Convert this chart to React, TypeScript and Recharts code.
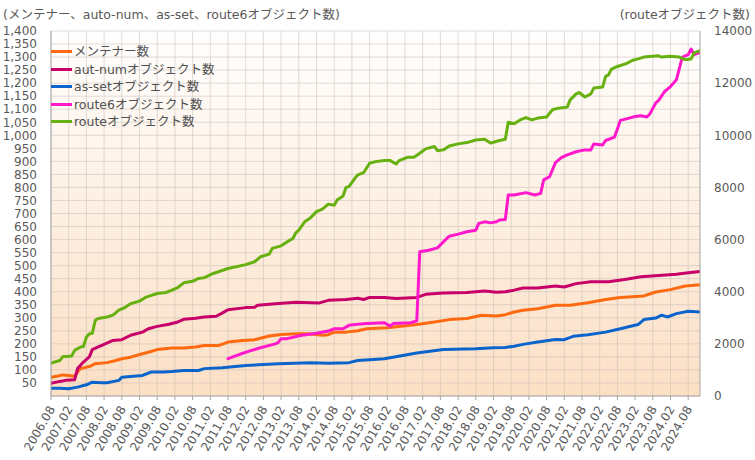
import React from 'react';
import { LineChart, Line, XAxis, YAxis, CartesianGrid } from 'recharts';

const FONT = "'DejaVu Sans', 'Noto Sans CJK JP', sans-serif";
const TEXT = '#595959';
const AXIS = '#a6a6a6';

const xTickLabels = [
  '2006.08', '2007.02', '2007.08', '2008.02', '2008.08', '2009.02', '2009.08', '2010.02',
  '2010.08', '2011.02', '2011.08', '2012.02', '2012.08', '2013.02', '2013.08', '2014.02',
  '2014.08', '2015.02', '2015.08', '2016.02', '2016.08', '2017.02', '2017.08', '2018.02',
  '2018.08', '2019.02', '2019.08', '2020.02', '2020.08', '2021.02', '2021.08', '2022.02',
  '2022.08', '2023.02', '2023.08', '2024.02', '2024.08',
];
const firstMonth = '2006.08';
const lastMonth = '2024.12';

const leftTicks = [
  0, 50, 100, 150, 200, 250, 300, 350, 400, 450, 500, 550, 600, 650, 700,
  750, 800, 850, 900, 950, 1000, 1050, 1100, 1150, 1200, 1250, 1300, 1350, 1400,
];
const rightTicks = [0, 2000, 4000, 6000, 8000, 10000, 12000, 14000];

const maintainers: [string, number][] = [
  ['2006.08', 72], ['2006.10', 76], ['2006.12', 81], ['2007.02', 79], ['2007.04', 76], ['2007.05', 92],
  ['2007.06', 105], ['2007.09', 113], ['2007.11', 124], ['2008.03', 128], ['2008.06', 136], ['2008.08', 143],
  ['2008.11', 149], ['2009.03', 162], ['2009.05', 168], ['2009.08', 178], ['2010.01', 184], ['2010.05', 184],
  ['2010.09', 188], ['2010.12', 194], ['2011.05', 194], ['2011.08', 207], ['2012.01', 213], ['2012.05', 216],
  ['2012.10', 230], ['2013.02', 236], ['2013.07', 239], ['2013.11', 239], ['2014.04', 233], ['2014.06', 235],
  ['2014.08', 245], ['2014.12', 245], ['2015.04', 250], ['2015.07', 258], ['2016.02', 262], ['2016.06', 267],
  ['2016.12', 274], ['2017.06', 284], ['2017.11', 293], ['2018.05', 297], ['2018.10', 310], ['2019.03', 307],
  ['2019.06', 312], ['2019.09', 322], ['2019.12', 329], ['2020.05', 335], ['2020.11', 348], ['2021.04', 348],
  ['2021.10', 358], ['2022.04', 370], ['2022.09', 378], ['2023.05', 384], ['2023.09', 399], ['2024.02', 408],
  ['2024.07', 422], ['2024.12', 427],
];

const autNum: [string, number][] = [
  ['2006.08', 49], ['2006.11', 56], ['2007.01', 60], ['2007.04', 62], ['2007.05', 105], ['2007.07', 130],
  ['2007.09', 150], ['2007.10', 178], ['2007.12', 188], ['2008.02', 198], ['2008.05', 213], ['2008.08', 216],
  ['2008.11', 233], ['2009.03', 245], ['2009.05', 258], ['2009.08', 267], ['2009.12', 275], ['2010.03', 284],
  ['2010.05', 294], ['2010.09', 298], ['2010.12', 303], ['2011.04', 306], ['2011.06', 318], ['2011.08', 331],
  ['2012.02', 339], ['2012.05', 340], ['2012.06', 348], ['2012.12', 354], ['2013.07', 360], ['2014.03', 357],
  ['2014.06', 367], ['2014.12', 370], ['2015.04', 375], ['2015.06', 370], ['2015.08', 378], ['2016.01', 378],
  ['2016.05', 374], ['2016.12', 378], ['2017.03', 390], ['2017.09', 395], ['2018.05', 397], ['2018.11', 403],
  ['2019.03', 398], ['2019.06', 400], ['2019.09', 406], ['2019.12', 414], ['2020.05', 414], ['2020.11', 422],
  ['2021.02', 418], ['2021.06', 431], ['2021.11', 438], ['2022.05', 438], ['2022.11', 448], ['2023.04', 457],
  ['2023.10', 462], ['2024.04', 467], ['2024.08', 473], ['2024.12', 478],
];

const asSet: [string, number][] = [
  ['2006.08', 30], ['2006.11', 30], ['2007.02', 28], ['2007.05', 34], ['2007.08', 43], ['2007.10', 53],
  ['2008.01', 51], ['2008.03', 51], ['2008.07', 60], ['2008.08', 72], ['2008.11', 75], ['2009.03', 79],
  ['2009.06', 92], ['2009.10', 92], ['2010.01', 94], ['2010.05', 98], ['2010.10', 98], ['2010.12', 105],
  ['2011.06', 108], ['2012.02', 117], ['2013.01', 124], ['2013.12', 128], ['2014.06', 126], ['2015.01', 128],
  ['2015.04', 136], ['2016.01', 143], ['2016.12', 165], ['2017.09', 178], ['2018.08', 181], ['2019.02', 185],
  ['2019.06', 186], ['2019.09', 191], ['2019.12', 198], ['2020.05', 207], ['2020.11', 217], ['2021.02', 216],
  ['2021.05', 229], ['2021.10', 235], ['2022.04', 245], ['2022.09', 258], ['2023.03', 274], ['2023.05', 293],
  ['2023.09', 299], ['2023.11', 310], ['2024.01', 303], ['2024.04', 316], ['2024.08', 325], ['2024.12', 322],
];

const route6: [string, number][] = [
  ['2011.08', 143], ['2011.12', 160], ['2012.04', 175], ['2012.07', 185], ['2012.12', 200], ['2013.01', 205],
  ['2013.02', 220], ['2013.04', 220], ['2013.09', 233], ['2014.02', 241], ['2014.06', 249], ['2014.08', 258],
  ['2014.11', 258], ['2015.01', 271], ['2015.04', 275], ['2015.07', 278], ['2016.01', 281], ['2016.03', 268],
  ['2016.04', 278], ['2016.10', 281], ['2016.12', 288], ['2017.01', 553], ['2017.04', 559], ['2017.07', 568],
  ['2017.09', 591], ['2017.11', 613], ['2018.02', 621], ['2018.05', 630], ['2018.08', 636], ['2018.09', 662],
  ['2018.11', 668], ['2019.01', 664], ['2019.03', 668], ['2019.04', 675], ['2019.06', 677], ['2019.07', 771],
  ['2019.09', 771], ['2020.01', 780], ['2020.04', 771], ['2020.06', 777], ['2020.07', 829], ['2020.09', 841],
  ['2020.11', 895], ['2021.01', 914], ['2021.03', 925], ['2021.06', 937], ['2021.09', 944], ['2021.11', 944],
  ['2021.12', 967], ['2022.03', 963], ['2022.04', 980], ['2022.07', 993], ['2022.08', 1024], ['2022.09', 1057],
  ['2022.12', 1066], ['2023.02', 1072], ['2023.04', 1075], ['2023.06', 1070], ['2023.07', 1082], ['2023.09', 1124],
  ['2023.10', 1134], ['2023.12', 1168], ['2024.02', 1187], ['2024.04', 1213], ['2024.06', 1300], ['2024.08', 1309],
  ['2024.09', 1331], ['2024.10', 1309], ['2024.12', 1318],
];

const route: [string, number][] = [
  ['2006.08', 1260], ['2006.11', 1360], ['2006.12', 1510], ['2007.03', 1530], ['2007.04', 1750], ['2007.06', 1880],
  ['2007.07', 1900], ['2007.08', 2260], ['2007.09', 2390], ['2007.10', 2400], ['2007.11', 2900], ['2007.12', 2970],
  ['2008.03', 3030], ['2008.05', 3100], ['2008.07', 3290], ['2008.09', 3390], ['2008.11', 3540], ['2009.02', 3640],
  ['2009.04', 3780], ['2009.06', 3860], ['2009.08', 3930], ['2009.11', 3970], ['2010.01', 4060], ['2010.03', 4160],
  ['2010.05', 4340], ['2010.08', 4400], ['2010.10', 4510], ['2010.12', 4540], ['2011.03', 4700], ['2011.08', 4890],
  ['2012.02', 5040], ['2012.05', 5150], ['2012.07', 5340], ['2012.10', 5440], ['2012.11', 5660], ['2013.02', 5760],
  ['2013.04', 5910], ['2013.06', 6040], ['2013.07', 6260], ['2013.08', 6360], ['2013.10', 6680], ['2013.12', 6840],
  ['2014.02', 7070], ['2014.04', 7170], ['2014.06', 7360], ['2014.08', 7320], ['2014.09', 7520], ['2014.11', 7670],
  ['2014.12', 8000], ['2015.01', 8030], ['2015.03', 8350], ['2015.04', 8480], ['2015.06', 8570], ['2015.08', 8930],
  ['2015.10', 8990], ['2016.01', 9030], ['2016.03', 9030], ['2016.05', 8900], ['2016.06', 9030], ['2016.09', 9160],
  ['2016.11', 9160], ['2017.01', 9310], ['2017.03', 9480], ['2017.06', 9570], ['2017.07', 9410], ['2017.09', 9440],
  ['2017.11', 9590], ['2018.02', 9670], ['2018.05', 9720], ['2018.08', 9820], ['2018.11', 9850], ['2019.01', 9700],
  ['2019.04', 9800], ['2019.06', 9850], ['2019.07', 10500], ['2019.09', 10440], ['2019.11', 10590], ['2020.01', 10680],
  ['2020.03', 10590], ['2020.05', 10660], ['2020.08', 10700], ['2020.10', 10980], ['2020.12', 11040], ['2021.03', 11080],
  ['2021.04', 11360], ['2021.06', 11590], ['2021.07', 11640], ['2021.09', 11470], ['2021.11', 11590], ['2021.12', 11810],
  ['2022.03', 11850], ['2022.04', 12260], ['2022.05', 12320], ['2022.06', 12540], ['2022.08', 12640], ['2022.11', 12750],
  ['2023.01', 12870], ['2023.03', 12930], ['2023.05', 13000], ['2023.10', 13050], ['2023.11', 13000], ['2024.02', 13030],
  ['2024.05', 13000], ['2024.07', 12900], ['2024.09', 12930], ['2024.10', 13160], ['2024.12', 13250],
];

const seriesNames = ['メンテナー数', 'aut-numオブジェクト数', 'as-setオブジェクト数', 'route6オブジェクト数', 'routeオブジェクト数'];
const seriesColors = ['#ff6a10', '#c8006a', '#0a64cc', '#ff18cc', '#66b010'];
const leftTitle = '(メンテナー、auto-num、as-set、route6オブジェクト数)';
const rightTitle = '(routeオブジェクト数)';

const toIdx = (d: string) => {
  const [y, m] = d.split('.').map(Number);
  const [y0, m0] = firstMonth.split('.').map(Number);
  return (y - y0) * 12 + (m - m0);
};
const toPoints = (arr: [string, number][]) => arr.map(([d, v]) => ({ x: toIdx(d), v }));

const seriesData = [maintainers, autNum, asSet, route6, route].map(toPoints);
const xTicks = xTickLabels.map(toIdx);
const labelOf = (idx: number) => {
  const i = xTicks.indexOf(idx);
  return i >= 0 ? xTickLabels[i] : '';
};

const XTick = (props: any) => {
  const { x, y, payload } = props;
  const tx = x + 1;
  const ty = y + 5;
  return (
    <text
      x={tx}
      y={ty}
      transform={`rotate(-60, ${tx}, ${ty})`}
      textAnchor="end"
      dominantBaseline="central"
      fontSize={12}
      fontFamily={FONT}
      fill={TEXT}
    >
      {labelOf(payload.value)}
    </text>
  );
};

export default function App() {
  return (
    <div style={{ position: 'absolute', left: 0, top: 0, width: 755, height: 460, background: '#fff', fontFamily: FONT }}>
      <LineChart width={755} height={460} margin={{ top: 31, right: 0, bottom: 0, left: 0 }}>
        <defs>
          <linearGradient id="plotBg" x1="0" y1="0" x2="0" y2="1">
            <stop offset="0%" stopColor="#ffffff" />
            <stop offset="100%" stopColor="#fcdfc4" />
          </linearGradient>
        </defs>
        <CartesianGrid
          fill="url(#plotBg)"
          stroke="#c8c0b8"
          strokeOpacity={0.55}
          yAxisId="left"
          syncWithTicks
        />
        <XAxis
          type="number"
          dataKey="x"
          domain={[toIdx(firstMonth), toIdx(lastMonth)]}
          ticks={xTicks}
          interval={0}
          height={64}
          tick={<XTick />}
          tickSize={4}
          tickMargin={2}
          tickLine={{ stroke: AXIS }}
          axisLine={{ stroke: AXIS }}
          allowDataOverflow
        />
        <YAxis
          yAxisId="left"
          orientation="left"
          width={51}
          domain={[0, 1400]}
          ticks={leftTicks}
          interval={0}
          tickLine={false}
          tickSize={0}
          tickMargin={14}
          axisLine={{ stroke: AXIS }}
          tick={{ fontSize: 12, fill: TEXT, fontFamily: FONT }}
          tickFormatter={(v: number) => (v === 0 ? '' : v.toLocaleString('en-US'))}
        />
        <YAxis
          yAxisId="right"
          orientation="right"
          width={55}
          domain={[0, 14000]}
          ticks={rightTicks}
          interval={0}
          tickLine={false}
          tickSize={0}
          tickMargin={14}
          axisLine={{ stroke: AXIS }}
          tick={{ fontSize: 12, fill: TEXT, fontFamily: FONT, textAnchor: 'start' }}
          tickFormatter={(v: number) => String(v)}
        />
        {seriesData.map((d, i) => (
          <Line
            key={seriesNames[i]}
            data={d}
            dataKey="v"
            name={seriesNames[i]}
            yAxisId={i === 4 ? 'right' : 'left'}
            type="linear"
            stroke={seriesColors[i]}
            strokeWidth={3}
            strokeLinejoin="round"
            strokeLinecap="round"
            dot={false}
            activeDot={false}
            isAnimationActive={false}
          />
        ))}
      </LineChart>
      <div style={{ position: 'absolute', left: 3, top: 5, fontSize: 12.5, color: TEXT, whiteSpace: 'nowrap', lineHeight: '20px' }}>
        {leftTitle}
      </div>
      <div style={{ position: 'absolute', right: 5, top: 5, fontSize: 12.5, color: TEXT, whiteSpace: 'nowrap', lineHeight: '20px' }}>
        {rightTitle}
      </div>
      <div style={{ position: 'absolute', left: 51, top: 43 }}>
        {seriesNames.map((n, i) => (
          <div key={n} style={{ display: 'flex', alignItems: 'center', height: 17.5 }}>
            <div style={{ width: 21, height: 3, background: seriesColors[i], marginRight: 2 }} />
            <span style={{ fontSize: 12.5, color: '#505050', lineHeight: '17.5px', whiteSpace: 'nowrap' }}>{n}</span>
          </div>
        ))}
      </div>
    </div>
  );
}
